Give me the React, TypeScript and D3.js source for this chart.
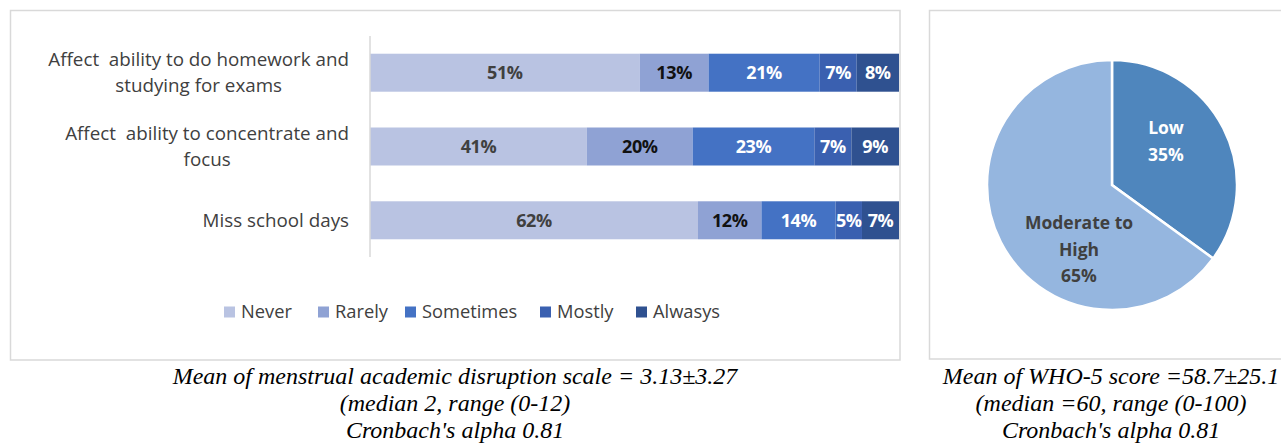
import React, { useEffect, useRef } from "react";
import * as d3 from "d3";

const categories = [
  ["Affect  ability to do homework and", "studying for exams"],
  ["Affect  ability to concentrate and", "focus"],
  ["Miss school days"],
];
const seriesNames = ["Never", "Rarely", "Sometimes", "Mostly", "Alwasys"];
const never = [51, 41, 62];
const rarely = [13, 20, 12];
const sometimes = [21, 23, 14];
const mostly = [7, 7, 5];
const alwasys = [8, 9, 7];
const seriesColors = ["#b9c3e2", "#8fa2d4", "#4472c4", "#3a60b0", "#2f5190"];
const labelColors = ["#404040", "#111111", "#ffffff", "#ffffff", "#ffffff"];

const pieLabels = [["Low", "35%"], ["Moderate to", "High", "65%"]];
const pieValues = [35, 65];
const pieColors = ["#4f86bd", "#95b6df"];
const pieLabelColors = ["#ffffff", "#404040"];

const leftCaption = [
  "Mean of menstrual academic disruption scale = 3.13±3.27",
  "(median 2, range (0-12)",
  "Cronbach's alpha 0.81",
];
const rightCaption = [
  "Mean of WHO-5 score =58.7±25.1",
  "(median =60, range (0-100)",
  "Cronbach's alpha 0.81",
];

const FONT = "'Open Sans', 'Noto Sans', sans-serif";
const SERIF = "'Liberation Serif', 'Times New Roman', serif";

export default function App() {
  const svgRef = useRef<SVGSVGElement>(null);

  const rows = categories.map((c, i) => ({
    key: i,
    Never: never[i],
    Rarely: rarely[i],
    Sometimes: sometimes[i],
    Mostly: mostly[i],
    Alwasys: alwasys[i],
  }));
  const stack = d3.stack<any>().keys(seriesNames)(rows);
  const x = d3.scaleLinear().domain([0, 100]).range([370, 899]);
  const y = d3
    .scaleBand<number>()
    .domain([0, 1, 2])
    .range([36, 257])
    .paddingInner(0.485)
    .paddingOuter(0.24);

  const legendX = [224, 318, 405, 540, 636];

  const pie = d3.pie<number>().sort(null).value((d) => d)(pieValues);
  const arc = d3.arc<any>().innerRadius(0).outerRadius(125);
  const cx = 1112;
  const cy = 185;
  const labelPos = [
    [1166, 128],
    [1079, 223],
  ];

  useEffect(() => {
    if (!svgRef.current) return;
    d3.select(svgRef.current)
      .selectAll<SVGGElement, unknown>("g.catblock")
      .each(function () {
        const texts = d3.select(this).selectAll<SVGTextElement, unknown>("text");
        let w = 0;
        texts.each(function () {
          w = Math.max(w, this.getComputedTextLength());
        });
        texts.attr("text-anchor", "middle").attr("x", 349 - w / 2);
      });
  }, []);

  return (
    <svg
      ref={svgRef}
      width={1281}
      height={443}
      style={{ position: "absolute", left: 0, top: 0, display: "block", background: "#fff" }}
    >
      {/* frames */}
      <rect x={10.5} y={10.5} width={889.5} height={349.5} fill="none" stroke="#d9d9d9" strokeWidth={1.5} />
      <rect x={929.5} y={10.5} width={360} height={348.5} fill="none" stroke="#d9d9d9" strokeWidth={1.5} />

      {/* bars */}
      {stack.map((s, si) =>
        s.map((d, ri) => (
          <rect
            key={`${si}-${ri}`}
            x={x(d[0])}
            y={y(ri)}
            width={x(d[1]) - x(d[0])}
            height={y.bandwidth()}
            fill={seriesColors[si]}
          />
        ))
      )}
      {stack.map((s, si) =>
        s.map((d, ri) => (
          <text
            key={`t${si}-${ri}`}
            x={(x(d[0]) + x(d[1])) / 2}
            y={(y(ri) as number) + y.bandwidth() / 2}
            dy="0.36em"
            textAnchor="middle"
            fontFamily={FONT}
            fontWeight={700}
            fontSize={18}
            letterSpacing={-0.4}
            fill={labelColors[si]}
          >
            {`${d[1] - d[0]}%`}
          </text>
        ))
      )}
      {/* axis line */}
      <line x1={370} x2={370} y1={36} y2={257} stroke="#d9d9d9" strokeWidth={1.5} />

      {/* category labels */}
      {categories.map((lines, i) => {
        const c = (y(i) as number) + y.bandwidth() / 2;
        const lh = 26;
        return (
          <g key={i} className="catblock">
            {lines.map((ln, li) => (
              <text
                key={li}
                x={349}
                y={c + (li - (lines.length - 1) / 2) * lh}
                dy="0.35em"
                textAnchor="end"
                fontFamily={FONT}
                fontSize={18.8}
                fill="#404040"
                style={{ whiteSpace: "pre" }}
              >
                {ln}
              </text>
            ))}
          </g>
        );
      })}

      {/* legend */}
      {seriesNames.map((n, i) => (
        <g key={n} transform={`translate(${legendX[i]},312)`}>
          <rect x={0} y={-5.5} width={11} height={11} fill={seriesColors[i]} />
          <text x={17} y={0} dy="0.35em" fontFamily={FONT} fontSize={18.3} fill="#404040">
            {n}
          </text>
        </g>
      ))}

      {/* pie */}
      <g transform={`translate(${cx},${cy})`}>
        {pie.map((p, i) => (
          <path key={i} d={arc(p) as string} fill={pieColors[i]} stroke="#ffffff" strokeWidth={2.5} />
        ))}
      </g>
      {pieLabels.map((lines, i) => (
        <g key={i}>
          {lines.map((ln, li) => (
            <text
              key={li}
              x={labelPos[i][0]}
              y={labelPos[i][1] + li * 26.5}
              dy="0.35em"
              textAnchor="middle"
              fontFamily={FONT}
              fontWeight={700}
              fontSize={17.5}
              fill={pieLabelColors[i]}
            >
              {ln}
            </text>
          ))}
        </g>
      ))}

      {/* captions */}
      {leftCaption.map((t, i) => (
        <text
          key={`l${i}`}
          x={455}
          y={384 + i * 27}
          textAnchor="middle"
          fontFamily={SERIF}
          fontStyle="italic"
          fontSize={24}
          fill="#000"
        >
          {t}
        </text>
      ))}
      {rightCaption.map((t, i) => (
        <text
          key={`r${i}`}
          x={1111}
          y={384 + i * 27}
          textAnchor="middle"
          fontFamily={SERIF}
          fontStyle="italic"
          fontSize={24}
          fill="#000"
        >
          {t}
        </text>
      ))}
    </svg>
  );
}
